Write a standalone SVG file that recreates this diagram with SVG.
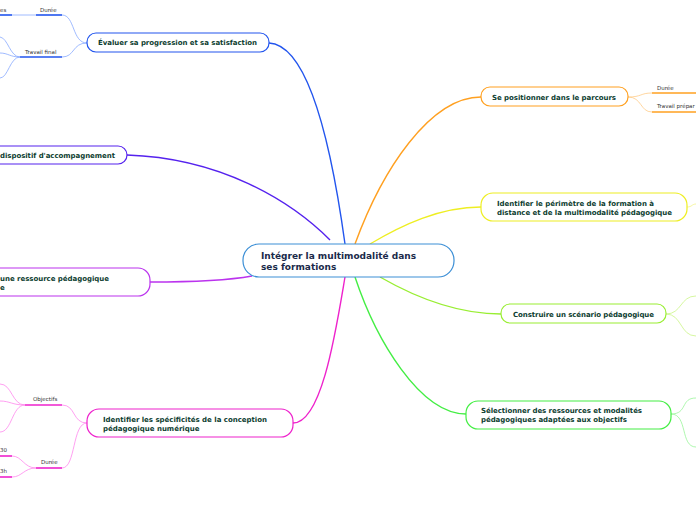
<svg xmlns="http://www.w3.org/2000/svg" width="696" height="520" viewBox="0 0 696 520">
<style>
.bg{fill:#ffffff}
.node{fill:#ffffff;stroke-width:1.2}
.t{font-family:"DejaVu Sans",Verdana,sans-serif;font-weight:bold;font-size:7px;fill:#0d3d30}
.tc{font-family:"DejaVu Sans",Verdana,sans-serif;font-weight:bold;font-size:9px;fill:#1a2a4a}
.s{font-family:"DejaVu Sans",Verdana,sans-serif;font-size:5.5px;fill:#333333}
.c{fill:none;stroke-width:1.4}
.sc{fill:none;stroke-width:0.8}
.ul{stroke-width:1.6}
</style>
<rect class="bg" width="696" height="520"/>
<g id="connectors">
<path class="c" stroke="#2255ee" d="M269,43 C310,45 332,150 345,244"/>
<path class="c" stroke="#5522ee" d="M127,155 C220,158 290,200 330,240"/>
<path class="c" stroke="#bb33ee" d="M150,282 C200,282 230,280 252,276"/>
<path class="c" stroke="#ee22cc" d="M293,423 C322,423 336,330 345,277"/>
<path class="c" stroke="#ffa020" d="M355,244 C382,170 430,97 481,97"/>
<path class="c" stroke="#eeee22" d="M370,244 C402,225 440,207 481,207"/>
<path class="c" stroke="#99ee33" d="M380,277 C420,300 460,314 501,314"/>
<path class="c" stroke="#44ee44" d="M355,277 C376,340 420,414 466,414"/>
<!-- sub connectors -->
<g stroke="#88aaff">
<path class="sc" d="M87,43 C72,43 75,15 62,15"/>
<path class="sc" d="M87,43 C72,43 75,57 62,57"/>
<path class="sc" d="M36,15 L12,15"/>
<path class="sc" d="M20,57 C10,57 8,38 0,37"/>
<path class="sc" d="M20,57 C10,57 8,53 0,53"/>
<path class="sc" d="M20,57 C10,57 8,78 0,78"/>
</g>
<g stroke="#2255ee">
<line class="ul" x1="36" y1="15" x2="62" y2="15"/>
<line class="ul" x1="0" y1="15" x2="12" y2="15"/>
<line class="ul" x1="20" y1="57" x2="62" y2="57"/>
</g>
<g stroke="#ff88ee">
<path class="sc" d="M87,423 C72,423 76,405 62,405"/>
<path class="sc" d="M87,423 C72,423 76,468 62,468"/>
<path class="sc" d="M25,405 C12,405 12,384 0,384"/>
<path class="sc" d="M25,405 C12,405 10,401 0,401"/>
<path class="sc" d="M25,405 C12,405 12,432 0,432"/>
<path class="sc" d="M36,468 C24,468 22,456 12,456"/>
<path class="sc" d="M36,468 C24,468 22,477 12,477"/>
</g>
<g stroke="#ee22cc">
<line class="ul" x1="25" y1="405" x2="62" y2="405"/>
<line class="ul" x1="36" y1="468" x2="62" y2="468"/>
<line class="ul" x1="0" y1="456" x2="12" y2="456"/>
<line class="ul" x1="0" y1="477" x2="12" y2="477"/>
</g>
<g stroke="#ffcc88">
<path class="sc" d="M628,97 C642,97 640,93 652,93"/>
<path class="sc" d="M628,97 C642,97 640,112 652,112"/>
</g>
<g stroke="#ffa020">
<line class="ul" x1="652" y1="93" x2="696" y2="93"/>
<line class="ul" x1="652" y1="112" x2="696" y2="112"/>
</g>
<path class="sc" stroke="#f4f488" d="M687,207 C692,207 692,204 696,204"/>
<g stroke="#ccf588">
<path class="sc" d="M666,314 C682,314 680,296 696,296"/>
<path class="sc" d="M666,314 C682,314 680,336 696,336"/>
</g>
<g stroke="#99f599">
<path class="sc" d="M671,414 C688,414 680,398 696,398"/>
<path class="sc" d="M671,414 C688,414 680,447 696,447"/>
</g>
</g>
<g id="central">
<rect class="node" x="243" y="244" width="211" height="33" rx="16" stroke="#3c8fd6"/>
<text class="tc" x="261" y="259" textLength="155">Intégrer la multimodalité dans</text>
<text class="tc" x="261" y="270">ses formations</text>
</g>
<g id="n-evaluer">
<rect class="node" x="87" y="33" width="182" height="19" rx="9" stroke="#2255ee"/>
<text class="t" x="98" y="45" textLength="159">Évaluer sa progression et sa satisfaction</text>
<text class="s" x="40" y="12">Durée</text>
<text class="s" x="0" y="12">es</text>
<text class="s" x="25" y="54">Travail final</text>
</g>
<g id="n-dispositif">
<rect class="node" x="-20" y="146" width="147" height="18" rx="9" stroke="#5522ee"/>
<text class="t" x="0" y="158" textLength="115">dispositif d'accompagnement</text>
</g>
<g id="n-ressource">
<rect class="node" x="-20" y="268" width="170" height="28" rx="12" stroke="#bb33ee"/>
<text class="t" x="0" y="281" textLength="109">une ressource pédagogique</text>
<text class="t" x="0" y="290">e</text>
</g>
<g id="n-specificites">
<rect class="node" x="87" y="409" width="206" height="28" rx="12" stroke="#ee22cc"/>
<text class="t" x="103" y="422" textLength="164">Identifier les spécificités de la conception</text>
<text class="t" x="103" y="431">pédagogique numérique</text>
<text class="s" x="33" y="401">Objectifs</text>
<text class="s" x="41" y="464">Durée</text>
<text class="s" x="0" y="452">30</text>
<text class="s" x="0" y="473">3h</text>
</g>
<g id="n-positionner">
<rect class="node" x="481" y="87" width="147" height="19" rx="9" stroke="#ffa020"/>
<text class="t" x="492" y="100" textLength="124">Se positionner dans le parcours</text>
<text class="s" x="657" y="90">Durée</text>
<text class="s" x="657" y="108">Travail prépar</text>
</g>
<g id="n-perimetre">
<rect class="node" x="481" y="193" width="206" height="28" rx="12" stroke="#eeee22"/>
<text class="t" x="497" y="206" textLength="157">Identifier le périmètre de la formation à</text>
<text class="t" x="497" y="215" textLength="175">distance et de la multimodalité pédagogique</text>
</g>
<g id="n-scenario">
<rect class="node" x="501" y="304" width="165" height="19" rx="9" stroke="#99ee33"/>
<text class="t" x="513" y="317" textLength="141">Construire un scénario pédagogique</text>
</g>
<g id="n-selectionner">
<rect class="node" x="466" y="401" width="205" height="28" rx="12" stroke="#44ee44"/>
<text class="t" x="481" y="413" textLength="161">Sélectionner des ressources et modalités</text>
<text class="t" x="481" y="422" textLength="146">pédagogiques adaptées aux objectifs</text>
</g>
</svg>
